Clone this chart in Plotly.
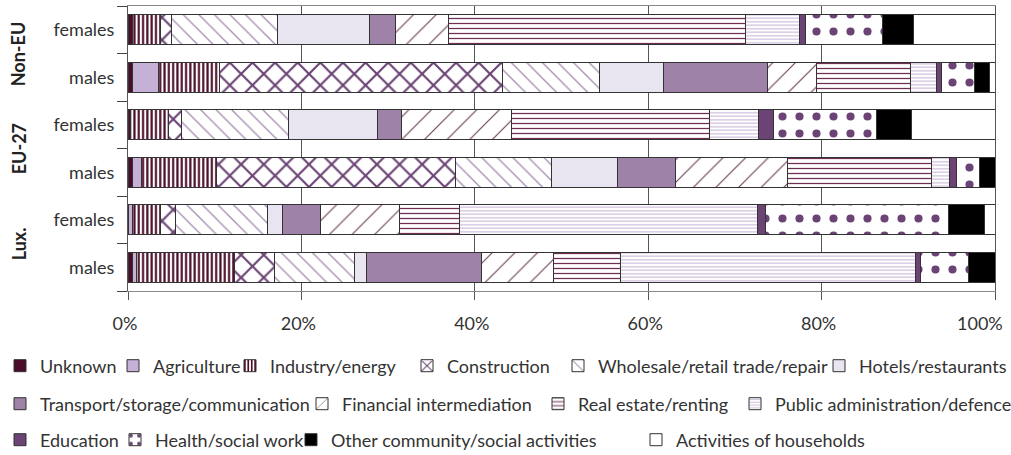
import plotly.graph_objects as go

# Rows, top to bottom
rows = ["Non-EU females", "Non-EU males", "EU-27 females",
        "EU-27 males", "Lux. females", "Lux. males"]
row_labels = ["females", "males", "females", "males", "females", "males"]
groups = ["Non-EU", "EU-27", "Lux."]

sectors = ["Unknown", "Agriculture", "Industry/energy", "Construction",
           "Wholesale/retail trade/repair", "Hotels/restaurants",
           "Transport/storage/communication", "Financial intermediation",
           "Real estate/renting", "Public administration/defence",
           "Education", "Health/social work",
           "Other community/social activities", "Activities of households"]

# Share of employment (%) by sector, one value per row
unknown      = [0.5, 0.5, 0.3, 0.5, 0.0, 0.5]
agriculture  = [0.0, 3.0, 0.0, 1.1, 0.5, 0.5]
industry     = [3.3, 7.1, 4.4, 8.6, 3.3, 11.3]
construction = [1.2, 32.6, 1.5, 27.6, 1.7, 4.6]
wholesale    = [12.3, 11.2, 12.3, 11.0, 10.6, 9.2]
hotels       = [10.6, 7.4, 10.3, 7.7, 1.7, 1.4]
transport    = [3.0, 12.0, 2.7, 6.7, 4.4, 13.3]
financial    = [6.1, 5.6, 12.7, 12.9, 9.1, 8.3]
real_estate  = [34.2, 10.9, 22.9, 16.6, 6.9, 7.7]
public_admin = [6.2, 3.0, 5.6, 2.0, 34.4, 34.0]
education    = [0.8, 0.5, 1.8, 0.9, 0.9, 0.6]
health       = [8.8, 3.8, 11.8, 2.6, 21.1, 5.6]
other        = [3.6, 1.8, 4.1, 1.8, 4.2, 3.0]
households   = [9.4, 0.6, 9.6, 0.0, 1.2, 0.0]

values = [unknown, agriculture, industry, construction, wholesale, hotels,
          transport, financial, real_estate, public_admin, education,
          health, other, households]

x_ticks = [0, 20, 40, 60, 80, 100]
x_tick_labels = ["0%", "20%", "40%", "60%", "80%", "100%"]

MAROON = "#4a0c28"
PLUM = "#6b4375"

# fill colour and optional pattern per sector
styles = [
    dict(color=MAROON),
    dict(color="#c5b1d6"),
    dict(color="white", pattern=dict(shape="|", fgcolor=MAROON, bgcolor="white",
                                     size=4.3, solidity=0.5)),
    dict(color="white", pattern=dict(shape="x", fgcolor=PLUM, bgcolor="white",
                                     size=16, solidity=0.25)),
    dict(color="white", pattern=dict(shape="\\", fgcolor="#a58caf", bgcolor="white",
                                     size=11, solidity=0.12)),
    dict(color="#e8e4f0"),
    dict(color="#9e82a8"),
    dict(color="white", pattern=dict(shape="/", fgcolor="#6a3f55", bgcolor="white",
                                     size=16, solidity=0.07)),
    dict(color="white", pattern=dict(shape="-", fgcolor="#6e2f52", bgcolor="white",
                                     size=5, solidity=0.25)),
    dict(color="white", pattern=dict(shape="-", fgcolor="#d4c4e0", bgcolor="white",
                                     size=3.5, solidity=0.4)),
    dict(color=PLUM),
    dict(color="white", pattern=dict(shape=".", fgcolor=PLUM, bgcolor="white",
                                     size=17, solidity=0.18)),
    dict(color="black"),
    dict(color="white"),
]

# legend layout: (row, x of text start in px)
legend_slots = [(0, 40), (0, 153), (0, 270), (0, 447), (0, 598), (0, 859),
                (1, 40), (1, 342), (1, 578), (1, 775),
                (2, 40), (2, 155), (2, 331), (2, 676)]
row_centres = [366, 404, 440]

W, H = 1011, 455
FONT = "Lato"
FS = 18
TXT = "#333333"

fig = go.Figure()
layout_legends = {}
for i, (name, vals, st) in enumerate(zip(sectors, values, styles)):
    key = "legend" if i == 0 else f"legend{i + 1}"
    marker = dict(color=st["color"], line=dict(color="#333333", width=1))
    if "pattern" in st:
        marker["pattern"] = dict(fillmode="replace", **st["pattern"])
    fig.add_trace(go.Bar(
        name=name, y=rows, x=[v if v > 0 else None for v in vals],
        orientation="h", marker=marker, legend=key, showlegend=True,
        hovertemplate="%{y}: %{x}%<extra>" + name + "</extra>",
    ))
    r, tx = legend_slots[i]
    layout_legends[key] = dict(
        x=max(tx - 40, 0) / W, y=1 - row_centres[r] / H,
        xref="container", yref="container",
        xanchor="left", yanchor="middle",
        orientation="h", bgcolor="rgba(0,0,0,0)", borderwidth=0,
        font=dict(family=FONT, size=FS, color=TXT),
        traceorder="normal",
    )

fig.update_layout(
    barmode="stack",
    bargap=0.37,
    width=W, height=H,
    showlegend=True,
    margin=dict(l=127.5, r=16, t=6, b=164, autoexpand=False),
    plot_bgcolor="white", paper_bgcolor="white",
    font=dict(family=FONT, size=FS, color=TXT),
    **layout_legends,
)

# the last tick label is set as an annotation so it can sit inside the page
axis_labels = x_tick_labels[:-1] + [""]
fig.update_xaxes(
    range=[0, 100], tickmode="array", tickvals=x_ticks, ticktext=axis_labels,
    showgrid=True, gridcolor="#555555", gridwidth=1,
    ticks="outside", ticklen=8, tickcolor="#555555",
    showline=True, linecolor="#888888", mirror=True,
    zeroline=False, ticklabelstandoff=8, ticklabelshift=-3,
    automargin=False,
    tickfont=dict(family=FONT, size=FS, color=TXT),
)
fig.add_annotation(
    text=x_tick_labels[-1], xref="x", yref="paper",
    x=x_ticks[-1], y=0, yshift=-32, xshift=-15,
    xanchor="center", yanchor="middle", showarrow=False,
    font=dict(family=FONT, size=FS, color=TXT),
)
fig.update_yaxes(
    type="category", categoryorder="array", categoryarray=rows,
    autorange="reversed", tickmode="array", tickvals=rows, ticktext=row_labels,
    tickson="boundaries", ticks="outside", ticklen=10, tickcolor="#444444",
    showline=True, linecolor="#555555", mirror=True, showgrid=False,
    ticklabelstandoff=9, automargin=False,
    tickfont=dict(family=FONT, size=FS, color=TXT),
)

# bold, rotated group captions beside each pair of rows
for gi, g in enumerate(groups):
    fig.add_annotation(
        text=f"<b>{g}</b>", textangle=-90,
        xref="paper", yref="paper",
        x=-0.126, y=1 - (2 * gi + 1) / 6,
        xanchor="center", yanchor="middle", showarrow=False,
        font=dict(family=FONT, size=FS, color="#222222"),
    )

fig.write_html("out.html")
